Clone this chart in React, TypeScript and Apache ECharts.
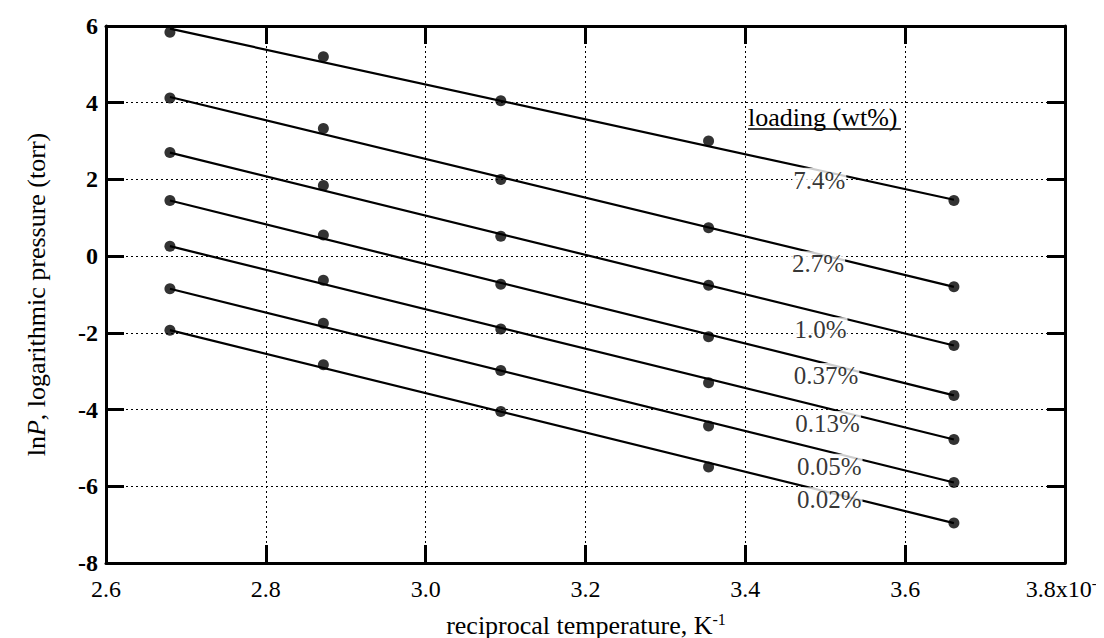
import React, { useEffect, useRef } from "react";
import * as echarts from "echarts";

const xValues = [2.68, 2.872, 3.094, 3.354, 3.661];
const loadings = ["7.4%", "2.7%", "1.0%", "0.37%", "0.13%", "0.05%", "0.02%"];
const lnP74 = [5.84, 5.2, 4.05, 3.0, 1.45];
const lnP27 = [4.12, 3.33, 2.0, 0.74, -0.8];
const lnP10 = [2.7, 1.84, 0.52, -0.76, -2.33];
const lnP037 = [1.45, 0.55, -0.73, -2.1, -3.63];
const lnP013 = [0.26, -0.63, -1.9, -3.3, -4.78];
const lnP005 = [-0.85, -1.75, -2.98, -4.43, -5.9];
const lnP002 = [-1.93, -2.83, -4.05, -5.5, -6.96];
const seriesValues = [lnP74, lnP27, lnP10, lnP037, lnP013, lnP005, lnP002];
// fitted straight lines, read as their end values at the first and last temperature
const fitStart = [5.93, 4.15, 2.7, 1.45, 0.26, -0.85, -1.93];
const fitEnd = [1.47, -0.8, -2.33, -3.63, -4.78, -5.9, -6.96];
// label anchor positions (centre) in data coordinates
const labelX = [3.4925, 3.491, 3.494, 3.501, 3.503, 3.505, 3.505];
const labelY = [1.98, -0.2, -1.92, -3.11, -4.36, -5.48, -6.35];
const xTicks = [2.6, 2.8, 3.0, 3.2, 3.4, 3.6, 3.8];
const yTicks = [-8, -6, -4, -2, 0, 2, 4, 6];

const SERIF = "'Liberation Serif', 'DejaVu Serif', serif";

export default function App() {
  const ref = useRef<HTMLDivElement>(null);
  useEffect(() => {
    if (!ref.current) return;
    const chart = echarts.init(ref.current, undefined, { renderer: "svg" });
    const axisLine = { show: true, onZero: false, lineStyle: { color: "#000", width: 3 } };
    const tick = { show: true, inside: true, length: 18, lineStyle: { color: "#000", width: 3 } };
    const split = { show: true, lineStyle: { color: "#000", width: 1, type: [2, 3] as any } };
    const series: any[] = [];
    seriesValues.forEach((vals, i) => {
      series.push({
        type: "line",
        name: loadings[i] + " fit",
        data: [
          [xValues[0], fitStart[i]],
          [xValues[xValues.length - 1], fitEnd[i]],
        ],
        symbol: "none",
        lineStyle: { color: "#000", width: 2.2 },
        z: 3,
        silent: true,
      });
      series.push({
        type: "scatter",
        name: loadings[i],
        data: xValues.map((x, j) => [x, vals[j]]),
        symbol: "circle",
        symbolSize: 11,
        itemStyle: { color: "#000" },
        z: 4,
      });
    });
    series.push({
      type: "scatter",
      name: "labels",
      data: loadings.map((l, i) => ({ value: [labelX[i], labelY[i]], name: l })),
      symbolSize: 0,
      z: 10,
      label: {
        show: true,
        position: "inside",
        formatter: (p: any) => p.name,
        fontFamily: SERIF,
        fontSize: 25,
        color: "#000",
        backgroundColor: "#fff",
        padding: [0, 1, 0, 1],
      },
      silent: true,
    });

    const tickRich = {
      a: { fontFamily: SERIF, fontSize: 24, color: "#000", lineHeight: 28 },
      s: { fontFamily: SERIF, fontSize: 15, color: "#000", lineHeight: 15, verticalAlign: "top" },
    };
    const titleRich = {
      a: { fontFamily: SERIF, fontSize: 26, color: "#000", lineHeight: 28 },
      s: { fontFamily: SERIF, fontSize: 16, color: "#000", lineHeight: 16, verticalAlign: "top" },
    };

    chart.setOption({
      animation: false,
      backgroundColor: "#fff",
      grid: { left: 98, right: 47, top: 18, bottom: 83, containLabel: false },
      xAxis: [
        {
          type: "value",
          min: 2.6,
          max: 3.8,
          interval: 0.2,
          position: "bottom",
          axisLine,
          axisTick: tick,
          splitLine: split,
          axisLabel: {
            margin: 12,
            fontFamily: SERIF,
            fontSize: 24,
            color: "#000",
            formatter: (v: number) => {
              const t = xTicks.find((k) => Math.abs(k - v) < 1e-6);
              const s = (t ?? v).toFixed(1);
              return Math.abs(v - 3.8) < 1e-6 ? "{a|" + s + "x10}{s|-3}" : "{a|" + s + "}";
            },
            rich: tickRich,
          },
        },
        {
          type: "value",
          min: 2.6,
          max: 3.8,
          interval: 0.2,
          position: "top",
          axisLine,
          axisTick: tick,
          splitLine: { show: false },
          axisLabel: { show: false },
        },
      ],
      yAxis: [
        {
          type: "value",
          min: -8,
          max: 6,
          interval: 2,
          position: "left",
          axisLine,
          axisTick: tick,
          splitLine: split,
          axisLabel: {
            margin: 8,
            fontFamily: SERIF,
            fontSize: 24,
            fontWeight: "bold",
            color: "#000",
            formatter: (v: number) => {
              const t = yTicks.find((k) => Math.abs(k - v) < 1e-6);
              return String(t ?? v);
            },
          },
          name: "{a|ln}{i|P}{a|, logarithmic pressure (torr)}",
          nameLocation: "middle",
          nameGap: 57,
          nameTextStyle: {
            rich: {
              a: { fontFamily: SERIF, fontSize: 26, color: "#000" },
              i: { fontFamily: SERIF, fontSize: 26, fontStyle: "italic", color: "#000" },
            },
          },
        },
        {
          type: "value",
          min: -8,
          max: 6,
          interval: 2,
          position: "right",
          axisLine,
          axisTick: tick,
          splitLine: { show: false },
          axisLabel: { show: false },
        },
      ],
      graphic: [
        {
          type: "text",
          x: 578,
          y: 603,
          z: 20,
          style: {
            text: "{a|reciprocal temperature, K}{s|-1}",
            rich: titleRich,
            align: "center",
            verticalAlign: "top",
          },
        },
        {
          type: "text",
          left: 740,
          top: 96,
          z: 20,
          style: { text: "loading (wt%)", font: "26px " + SERIF, fill: "#000" },
        },
        {
          type: "line",
          z: 20,
          shape: { x1: 740, y1: 121, x2: 893, y2: 121 },
          style: { stroke: "#000", lineWidth: 1.5 },
        },
      ],
      series,
    });
    return () => chart.dispose();
  }, []);
  return <div ref={ref} style={{ width: 1104, height: 638 }} />;
}
